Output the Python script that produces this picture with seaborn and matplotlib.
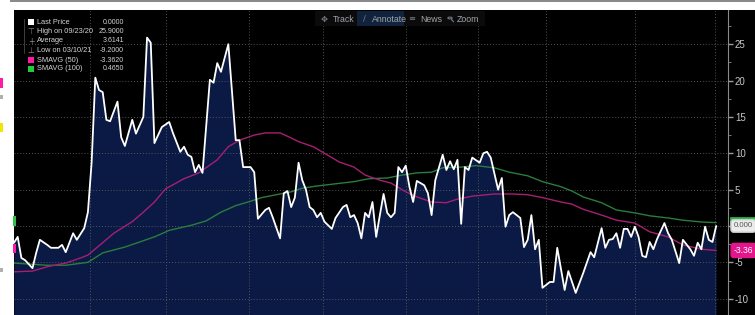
import matplotlib
matplotlib.use("Agg")
import matplotlib.pyplot as plt
import seaborn as sns
import pandas as pd
from matplotlib.patches import Rectangle, Circle, FancyBboxPatch
from matplotlib.ticker import MultipleLocator
import matplotlib.transforms as mtransforms

# ---------------- data (trading-day index, value) ----------------
price_day = [0, 1, 2, 3, 5, 6, 7, 9, 10, 12, 13, 14, 16, 17, 19, 20, 21, 22, 23, 24,
             25, 26, 28, 29, 30, 32, 33, 35, 36, 37, 38, 40, 42, 43, 45, 46, 47, 48, 49, 50,
             51, 53, 54, 55, 56, 58, 60, 61, 62, 64, 65, 66, 68, 69, 70, 72, 73, 74, 75, 76,
             77, 78, 79, 80, 81, 82, 83, 84, 86, 87, 89, 90, 91, 92, 93, 94, 95, 96, 97, 98,
             99, 100, 101, 102, 103, 104, 105, 106, 107, 108, 109, 111, 112, 113, 114, 116, 117, 118, 119, 120,
             121, 122, 123, 124, 126, 127, 128, 129, 131, 132, 133, 134, 135, 137, 138, 139, 140, 141, 142, 143,
             145, 146, 147, 149, 150, 152, 154, 156, 157, 159, 160, 161, 162, 163, 164, 165, 166, 167, 168, 169,
             170, 171, 172, 173, 174, 176, 177, 178, 180, 181, 183, 184, 185, 186, 187, 188, 189, 190]
price_value = [-2.3, -1.5, -4.4, -4.7, -5.8, -3.7, -1.9, -2.6, -3.0, -3.0, -2.6, -3.6, -1.0, -1.9, -0.3, 1.9, 8.7, 20.4, 18.7, 18.4,
               14.6, 14.4, 17.1, 12.2, 11.0, 14.6, 12.7, 15.0, 25.9, 25.2, 11.4, 13.6, 14.3, 12.8, 10.2, 10.9, 9.8, 9.5, 7.4, 8.4,
               7.3, 20.1, 19.7, 22.4, 21.2, 25.0, 11.8, 11.8, 8.1, 8.1, 7.4, 1.0, 2.2, 2.5, 1.2, -1.7, 4.5, 4.8, 2.6, 3.9,
               8.7, 6.3, 5.0, 2.6, 2.2, 1.2, 1.8, 0.6, -0.4, 1.1, 2.6, 2.9, 1.2, 1.5, 0.4, -1.7, 1.8, 1.2, 3.3, -1.5,
               1.5, 4.4, 1.8, 1.2, 1.8, 8.1, 7.4, 8.3, 5.4, 3.3, 6.2, 5.6, 4.5, 1.5, 6.3, 9.8, 7.7, 8.9, 7.8, 9.1,
               0.3, 8.1, 7.7, 9.4, 8.7, 10.0, 10.2, 9.4, 5.0, 6.6, -0.1, 1.5, 1.9, 1.1, -2.9, -1.9, 1.5, -3.2, -1.9, -8.5,
               -7.7, -7.7, -3.0, -8.8, -6.2, -9.2, -6.5, -3.6, -4.3, -0.3, -3.0, -1.9, -1.8, -1.0, -3.0, -0.4, -0.4, -1.5, -0.1, -1.5,
               -4.1, -4.3, -2.2, -3.2, -1.8, 0.4, -1.0, -1.9, -5.1, -1.9, -3.2, -4.1, -2.3, -3.2, -0.1, -1.9, -2.2, 0.0]

ma50_day = [0, 5, 9, 14, 18, 20, 24, 27, 32, 35, 38, 41, 46, 50, 55, 58, 61, 65, 68, 72,
            75, 77, 81, 84, 88, 92, 95, 99, 102, 106, 109, 113, 117, 120, 124, 130, 135, 139, 143, 148,
            151, 154, 159, 163, 168, 172, 177, 181, 186, 190]
ma50_value = [-6.3, -6.2, -5.6, -5.1, -4.4, -4.0, -2.3, -1.0, 0.6, 1.9, 3.3, 5.1, 6.5, 7.3, 9.1, 10.9, 11.8, 12.5, 12.8, 12.8,
              12.1, 11.6, 10.9, 10.0, 8.8, 8.1, 7.0, 6.3, 5.9, 4.7, 4.0, 3.3, 3.2, 3.7, 4.1, 4.4, 4.4, 4.3, 3.9, 3.3,
              3.0, 2.3, 1.5, 0.8, 0.4, -0.8, -1.5, -2.6, -3.2, -3.362]

ma100_day = [0, 9, 14, 20, 24, 30, 34, 38, 42, 48, 52, 56, 60, 64, 67, 71, 75, 78, 82, 87,
             92, 96, 101, 105, 109, 113, 116, 121, 125, 130, 134, 139, 143, 148, 151, 154, 159, 163, 168, 172,
             177, 181, 186, 190]
ma100_value = [-5.1, -5.4, -5.4, -5.0, -3.7, -2.9, -2.2, -1.5, -0.6, 0.1, 0.7, 1.9, 2.8, 3.4, 3.9, 4.3, 4.7, 5.2, 5.5, 5.8,
               6.1, 6.5, 6.6, 7.0, 7.3, 7.4, 8.0, 8.1, 8.3, 8.0, 7.4, 6.9, 6.1, 5.4, 4.8, 4.0, 3.2, 2.2, 1.8, 1.4,
               1.1, 0.8, 0.55, 0.465]

month_start_day = [20.5, 41, 63.5, 83.5, 106, 125.5, 144, 168, 189.8]
y_ticks = [-10, -5, 0, 5, 10, 15, 20, 25]
y_tick_labels = ["-10", "-5", "", "5", "10", "15", "20", "25"]   # "0" is hidden under the price tag

legend_labels = ["Last Price", "High on 09/23/20", "Average", "Low on 03/10/21", "SMAVG (50)", "SMAVG (100)"]
legend_values = ["0.0000", "25.9000", "3.6141", "-9.2000", "-3.3620", "0.4650"]
toolbar_labels = ["Track", "Annotate", "News", "Zoom"]
last_price_tag = "0.000"
ma50_tag = "-3.36"

price_df = pd.DataFrame({"day": price_day, "value": price_value})
ma50_df = pd.DataFrame({"day": ma50_day, "value": ma50_value})
ma100_df = pd.DataFrame({"day": ma100_day, "value": ma100_value})

# ---------------- style ----------------
sns.set_theme(style="dark", rc={"axes.facecolor": "black", "figure.facecolor": "white",
                                "axes.unicode_minus": False})
plt.rcParams["font.family"] = ["Liberation Sans", "DejaVu Sans"]

W, H = 755, 315
fig = plt.figure(figsize=(W / 100, H / 100), dpi=100, facecolor="white")


def fx(x):
    return x / W


def fy(y):
    return 1 - y / H


def frect(x0, y0, w, h, color, z):
    fig.patches.append(Rectangle((fx(x0), fy(y0 + h)), w / W, h / H, transform=fig.transFigure,
                                 facecolor=color, edgecolor="none", zorder=z))


# black chart panel and top border line (behind axes)
frect(14, 10, W - 14, H - 10, "black", -2)
frect(10, 0, W - 10, 2, "#8a8a8a", -2)

ax = fig.add_axes([fx(14), 0, fx(728) - fx(14), fy(10)])
ax.set_zorder(0)
ax.set_facecolor("black")
ymin, ymax = -12.24, 29.7
ax.set_xlim(0, 193.2)
ax.set_ylim(ymin, ymax)

ax.fill_between(price_df["day"], price_df["value"], ymin, color="#0a1a45", lw=0, zorder=1)
sns.lineplot(data=ma100_df, x="day", y="value", ax=ax, color="#2a7d3c", linewidth=1.0, zorder=3)
sns.lineplot(data=ma50_df, x="day", y="value", ax=ax, color="#a61f72", linewidth=1.0, zorder=3)
sns.lineplot(data=price_df, x="day", y="value", ax=ax, color="white", linewidth=1.3, zorder=5)
ax.set_xlabel("")
ax.set_ylabel("")

# grid
ax.set_xticks(month_start_day)
ax.set_xticklabels([])
ax.set_yticks(y_ticks)
ax.set_yticklabels(y_tick_labels)
ax.yaxis.set_minor_locator(MultipleLocator(2.5))
ax.set_axisbelow(False)
ax.grid(True, which="major", color="#5c5c5c", linestyle=(0, (1, 2)), linewidth=0.7, alpha=0.9)
ax.yaxis.tick_right()
ax.tick_params(axis="x", length=0)
ax.tick_params(axis="y", which="major", colors="#9a9a9a", labelcolor="#c8c8c8", labelsize=7,
               length=3.5, width=1.0, pad=1.5, right=True, left=False)
ax.tick_params(axis="y", which="minor", colors="#8a8a8a", length=2, width=0.6, right=True, left=False)
for s in ["left", "top", "bottom"]:
    ax.spines[s].set_visible(False)
ax.spines["right"].set_color("#8a8a8a")
ax.spines["right"].set_linewidth(0.8)

# right-hand value tags
trans = mtransforms.blended_transform_factory(ax.transAxes, ax.transData)
# SMAVG(100) tag mostly hidden behind the last-price tag: only its green top shows
ax.add_patch(FancyBboxPatch((1.003, ma100_value[-1] - 0.75), 0.05, 1.5, transform=trans,
                            boxstyle="round,pad=0.0,rounding_size=0.004", fc="#2fb84a", ec="none",
                            clip_on=False, zorder=6))
ax.text(1.008, price_value[-1], last_price_tag, transform=trans, fontsize=5.6, color="#555555",
        va="center", ha="left", clip_on=False, zorder=7,
        bbox=dict(boxstyle="round,pad=0.35", fc="#ececec", ec="#cfcfcf"))
ax.text(1.008, ma50_value[-1], ma50_tag, transform=trans, fontsize=6.2, color="white",
        va="center", ha="left", clip_on=False, zorder=7,
        bbox=dict(boxstyle="round,pad=0.3", fc="#e3168c", ec="#e3168c"))

# cropped neighbour-panel marks on the left strip
for (x0, y0, w, h, c) in [(0, 78, 3, 10, "#ff1aa8"), (0, 123, 3, 9, "#f2e600"),
                          (13, 216, 3, 10, "#2fc24a"), (13, 244, 3, 9, "#ff1aa8"),
                          (0, 95, 3, 4, "#b0b0b0"), (0, 268, 3, 4, "#b0b0b0")]:
    frect(x0, y0, w, h, c, 5)

# legend block
row_y = [22, 31.5, 41, 50.5, 60, 69]
fig.lines.append(plt.Line2D([fx(24), fx(24)], [fy(19), fy(53)], transform=fig.transFigure,
                            color="#4a4a4a", lw=0.6, zorder=5))
markers = ["sq_white", "\u22a4", "+", "\u22a5", "sq_mag", "sq_green"]
sq_colors = {"sq_white": "white", "sq_mag": "#ff18a8", "sq_green": "#22cc3a"}
for yy, lab, val, mk in zip(row_y, legend_labels, legend_values, markers):
    if mk.startswith("sq"):
        frect(28, yy - 3, 6, 6, sq_colors[mk], 6)
    else:
        fig.text(fx(31), fy(yy), mk, fontsize=5.5, color="#8a8a8a", ha="center", va="center",
                 family=["DejaVu Sans"], zorder=6)
    fig.text(fx(37), fy(yy), lab, fontsize=5.3, color="#d4d4d4", ha="left", va="center", zorder=6)
    fig.text(fx(124), fy(yy), val, fontsize=5.0, color="#d4d4d4", ha="right", va="center", zorder=6)

# toolbar
frect(315, 11, 170, 15, "#0b0b0b", 4)
frect(357, 11, 47, 15, "#10223c", 5)
icons = ["\u2725", "\u2215", "\u2261", None]
icon_x = [324, 364, 412, 449]
text_x = [333, 372, 420, 457]
for ic, ix, lab, tx in zip(icons, icon_x, toolbar_labels, text_x):
    if ic is not None:
        fig.text(fx(ix), fy(19), ic, fontsize=6, color="#7a7f86", ha="center", va="center",
                 family=["DejaVu Sans"], zorder=6)
    fig.text(fx(tx), fy(19), lab, fontsize=6.3, color="#a0a4aa", ha="left", va="center", zorder=6)
# magnifier icon for "Zoom" (no installed font has the glyph)
fig.patches.append(Circle((fx(450), fy(18)), 2.2 / W, transform=fig.transFigure, fill=False,
                          ec="#7a7f86", lw=0.7, zorder=6))
fig.lines.append(plt.Line2D([fx(451.6), fx(453.5)], [fy(19.6), fy(21.8)], transform=fig.transFigure,
                            color="#7a7f86", lw=0.8, zorder=6))

fig.savefig("out.png", dpi=100, facecolor="white")
